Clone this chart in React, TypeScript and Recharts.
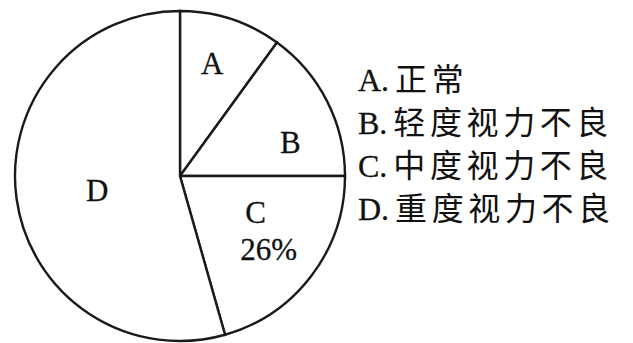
import React from 'react';
import { PieChart, Pie, Cell, Customized } from 'recharts';

const categories = ['A', 'B', 'C', 'D'];
const values = [10, 15, 20.6, 54.4];
const sliceLabels = ['A', 'B', 'C', 'D'];
const cPercentLabel = '26%';
const legendPrefixes = ['A.', 'B.', 'C.', 'D.'];
const legendNames = ['正常', '轻度视力不良', '中度视力不良', '重度视力不良'];

const data = categories.map((c, i) => ({ name: c, value: values[i] }));

// label placement styling: radial factor and angle nudge (degrees)
const labelPlace: Record<string, { rf: number; da: number }> = {
  A: { rf: 0.71, da: 2 },
  B: { rf: 0.7, da: -10 },
  C: { rf: 0.51, da: 11 },
  D: { rf: 0.51, da: 2 },
};

const RAD = Math.PI / 180;
const SERIF = '"Liberation Serif", "DejaVu Serif", serif';
const CJK = '"Noto Sans CJK SC", sans-serif';

const renderLabel = (props: any) => {
  const { cx, cy, midAngle, outerRadius, index } = props;
  const name = categories[index];
  const p = labelPlace[name];
  const a = (midAngle + p.da) * RAD;
  const r = outerRadius * p.rf;
  const x = cx + r * Math.cos(-a);
  const y = cy + r * Math.sin(-a);
  return (
    <g key={`lbl-${index}`}>
      <text
        x={x}
        y={y}
        textAnchor="middle"
        dominantBaseline="central"
        fontFamily={SERIF}
        fontSize={31}
        fill="#111"
        stroke="#111"
        strokeWidth={0.3}
      >
        {sliceLabels[index]}
      </text>
      {name === 'C' && (
        <text
          x={x + 13}
          y={y + 37}
          textAnchor="middle"
          dominantBaseline="central"
          fontFamily={SERIF}
          fontSize={31}
          fill="#111"
          stroke="#111"
          strokeWidth={0.3}
        >
          {cPercentLabel}
        </text>
      )}
    </g>
  );
};

const LegendBlock = () => (
  <g>
    {legendPrefixes.map((p, i) => (
      <text key={p} x={358} y={91 + i * 43} fill="#111" fontSize={32}>
        <tspan fontFamily={SERIF} stroke="#111" strokeWidth={0.3}>{p}</tspan>
        <tspan fontFamily={CJK} dx={6} letterSpacing={4.6}>
          {legendNames[i]}
        </tspan>
      </text>
    ))}
  </g>
);

export default function App() {
  return (
    <div style={{ position: 'absolute', left: 0, top: 0, background: '#fff' }}>
      <PieChart width={633} height={343} margin={{ top: 0, right: 0, bottom: 0, left: 0 }}>
        <Pie
          data={data}
          dataKey="value"
          nameKey="name"
          cx={180}
          cy={176}
          outerRadius={165}
          startAngle={90}
          endAngle={-270}
          stroke="#1a1a1a"
          strokeWidth={2.4}
          label={renderLabel}
          labelLine={false}
          isAnimationActive={false}
        >
          {data.map((d) => (
            <Cell key={d.name} fill="#ffffff" />
          ))}
        </Pie>
        <Customized component={LegendBlock} />
      </PieChart>
    </div>
  );
}
